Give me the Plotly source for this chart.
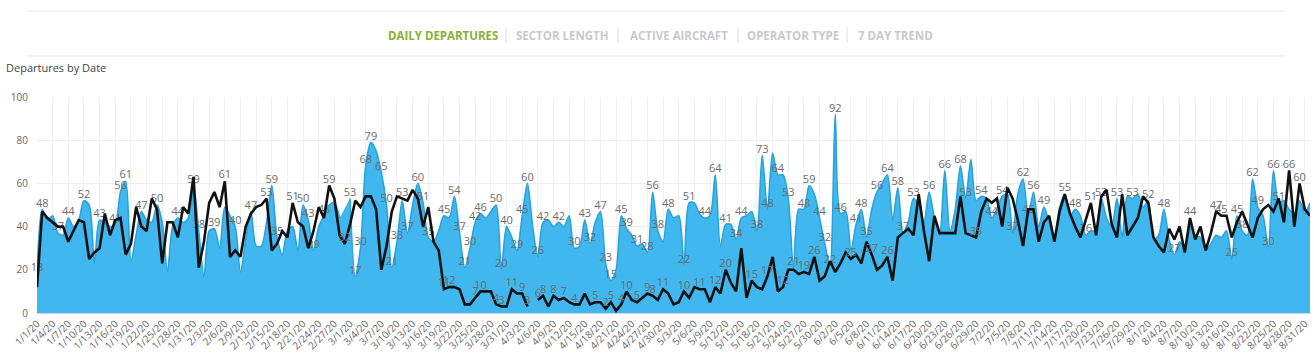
import pandas as pd
import plotly.graph_objects as go

# ---------------- data ----------------
start_date = "2020-01-01"
end_date = "2020-09-01"
dates = pd.date_range(start_date, end_date, freq="D")

daily_departures = [
    18, 48, 43, 45, 37, 36, 44, 40, 43, 52, 50, 23, 43, 42, 40, 41, 56, 61, 24, 36,
    47, 43, 42, 50, 42, 19, 40, 44, 42, 44, 59, 38, 17, 38, 39, 30, 49, 45, 40, 19,
    34, 47, 31, 31, 42, 59, 35, 27, 38, 40, 29, 50, 43, 29, 40, 45, 50, 51, 44, None,
    53, 17, 30, 68, 79, 75, 65, 50, 21, 33, 52, 37, 50, 60, 51, 35, 33, 38, 45, 44,
    54, 37, 21, 30, 42, 46, 44, 47, 50, 20, 40, 35, 29, 45, 60, 40, 26, 42, 43, 40,
    42, 40, 45, 30, 31, 43, 32, 42, 47, 23, 15, 20, 45, 39, 36, 31, 32, 28, 56, 38,
    33, 48, 44, 45, 22, 51, 51, 46, 44, 45, 64, 31, 41, 41, 34, 44, 45, 47, 38, 73,
    48, 74, 64, 64, 53, 21, 48, 48, 59, 55, 44, 32, 22, 92, 46, 47, 29, 41, 48, 35,
    48, 56, 60, 64, 43, 58, 37, 42, 53, 50, 42, 56, 44, 36, 66, 38, 48, 68, 53, 71,
    52, 54, 53, 44, 48, 54, 55, 37, 55, 62, 45, 56, 40, 49, 42, 35, 49, 55, 45, 48,
    45, 36, 38, 38, 53, 44, 40, 53, 35, 54, 53, 55, 49, 52, 34, 36, 48, 34, 27, 33,
    30, 40, 36, 35, 29, 32, 36, 35, 38, 25, 45, 38, 36, 62, 49, 45, 30, 66, 51, 52,
    48, 46, 52, 46, 51,
]

trend_7day = [
    12, 47, 44, 42, 40, 40, 33, 38, 43, 42, 25, 28, 30, 46, 36, 43, 44, 27, 32, 49,
    40, 38, 53, 48, 23, 42, 42, 35, 49, 46, 63, 21, 33, 51, 56, 49, 61, 26, 29, 26,
    40, 46, 49, 50, 53, 29, 32, 38, 35, 51, 42, 40, 30, 38, 49, 44, 59, 53, 36, 32,
    41, 52, 49, 54, 54, 48, 20, 31, 47, 54, 53, 52, 57, 53, 40, 49, 33, 29, 11, 12,
    12, 11, 4, 4, 7, 10, 10, 10, 4, 3, 3, 11, 9, 9, 3, None, 6, 8, 3, 8,
    6, 7, 5, 4, 4, 9, 4, 5, 5, 2, 5, 1, 4, 10, 6, 5, 7, 9, 8, 6,
    11, 9, 4, 5, 10, 7, 12, 11, 11, 5, 12, 9, 20, 14, 10, 30, 7, 15, 12, 11,
    17, 26, 10, 12, 20, 20, 18, 19, 18, 26, 15, 17, 24, 19, 23, 28, 25, 27, 23, 33,
    27, 20, 22, 26, 15, 35, 37, 39, 36, 55, 38, 24, 45, 37, 37, 37, 37, 54, 37, 36,
    35, 47, 53, 51, 53, 40, 58, 53, 43, 31, 48, 48, 33, 42, 45, 33, 47, 55, 46, 40,
    35, 43, 51, 36, 54, 57, 41, 35, 55, 36, 40, 44, 54, 51, 35, 31, 28, 39, 34, 40,
    28, 44, 34, 40, 29, 37, 47, 45, 45, 35, 42, 47, 41, 35, 44, 48, 50, 47, 53, 42,
    66, 40, 60, 48, 45,
]

# which points carry a visible value label (day index from 1/1/20)
departures_labeled = [
    0, 1, 4, 6, 9, 12, 15, 16, 17, 20, 23, 27, 30, 31, 34, 38, 41, 45, 46, 51,
    52, 53, 55, 60, 61, 62, 63, 64, 66, 67, 68, 69, 71, 73, 74, 75, 78, 80, 81, 82,
    83, 84, 85, 88, 89, 90, 92, 93, 94, 96, 97, 100, 103, 105, 106, 108, 109, 110,
    112, 113, 115, 117, 118, 119, 121, 124, 125, 128, 130, 132, 134, 135, 138, 139,
    140, 142, 144, 145, 147, 148, 150, 151, 152, 153, 154, 157, 158, 159, 161, 163,
    165, 166, 168, 171, 174, 177, 178, 181, 183, 185, 187, 189, 190, 191, 193, 197,
    199, 201, 204, 207, 210, 213, 216, 218, 229, 230, 231, 233, 234, 236, 237, 238,
]
trend_labeled = [
    36, 44, 49, 56, 59, 70, 78, 79, 84, 85, 88, 89, 91, 93, 94, 96, 97, 99, 101,
    103, 107, 109, 110, 112, 113, 115, 117, 118, 120, 124, 127, 130, 132, 137, 140,
    143, 147, 149, 156, 160, 163, 180, 202, 221, 226, 227, 240, 242,
]

tab_labels = ["DAILY DEPARTURES", "SECTOR LENGTH", "ACTIVE AIRCRAFT", "OPERATOR TYPE", "7 DAY TREND"]
chart_title = "Departures by Date"

# ---------------- figure ----------------
W, H = 1314, 358
ML, MR, MT, MB = 37, 4, 97, 45
PW, PH = W - ML - MR, H - MT - MB


def px_x(p):
    return (p - ML) / PW


def px_y(p):
    return (H - MB - p) / PH


def label_list(values, idx):
    s = set(idx)
    return [str(v) if (i in s and v is not None) else "" for i, v in enumerate(values)]


fig = go.Figure()
fig.add_trace(go.Scatter(
    x=dates, y=daily_departures, mode="lines+text",
    text=label_list(daily_departures, departures_labeled),
    textposition="top center", textfont=dict(size=11, color="#6b6b6b", family="Open Sans"),
    line=dict(color="#2aa3dc", width=1.6, shape="spline", smoothing=0.8),
    fill="tozeroy", fillcolor="#40b7ee", connectgaps=False,
    hoverinfo="skip", cliponaxis=False,
))
fig.add_trace(go.Scatter(
    x=dates, y=trend_7day, mode="lines+text",
    text=label_list(trend_7day, trend_labeled),
    textposition="top center", textfont=dict(size=11, color="#6b6b6b", family="Open Sans"),
    line=dict(color="#111111", width=2.6), connectgaps=False,
    hoverinfo="skip", cliponaxis=False,
))

shapes = [
    dict(type="line", xref="paper", yref="paper", x0=px_x(27), x1=px_x(1285), y0=px_y(11), y1=px_y(11),
         line=dict(color="#e6e6e6", width=1)),
    dict(type="line", xref="paper", yref="paper", x0=px_x(27), x1=px_x(1285), y0=px_y(56), y1=px_y(56),
         line=dict(color="#e6e6e6", width=1)),
]
for sx in [506, 618, 738, 847]:
    shapes.append(dict(type="line", xref="paper", yref="paper", x0=px_x(sx), x1=px_x(sx),
                       y0=px_y(27), y1=px_y(43), line=dict(color="#dddddd", width=1)))

annotations = []
tab_centers = [443, 562, 679, 793, 895]
for i, (lab, cx) in enumerate(zip(tab_labels, tab_centers)):
    annotations.append(dict(
        text=f"<b>{lab}</b>", x=px_x(cx), y=px_y(35), xref="paper", yref="paper",
        xanchor="center", yanchor="middle", showarrow=False,
        font=dict(size=11.5, color="#86b238" if i == 0 else "#c9c9c9", family="Open Sans"),
    ))
annotations.append(dict(
    text=chart_title, x=px_x(4), y=px_y(67), xref="paper", yref="paper",
    xanchor="left", yanchor="middle", showarrow=False,
    font=dict(size=11, color="#444444", family="Open Sans"),
))

fig.update_layout(
    width=W, height=H, margin=dict(l=ML, r=MR, t=MT, b=MB),
    paper_bgcolor="white", plot_bgcolor="white", showlegend=False,
    shapes=shapes, annotations=annotations,
    font=dict(family="Open Sans", color="#666666"),
    xaxis=dict(
        type="date", range=[start_date, end_date],
        tick0=start_date, dtick=3 * 86400000, tickformat="%-m/%-d/%y",
        tickangle=-45, tickfont=dict(size=10, color="#666666"),
        showgrid=True, gridcolor="#f0f0f0", gridwidth=1,
        showline=True, linecolor="#ccd6eb", linewidth=1,
        ticks="", zeroline=False, automargin=False, fixedrange=True,
    ),
    yaxis=dict(
        range=[0, 100], dtick=20, tickfont=dict(size=10, color="#666666"),
        showgrid=True, gridcolor="#ececec", gridwidth=1,
        zeroline=False, ticks="", ticklabelstandoff=8, automargin=False, fixedrange=True,
    ),
)

fig.write_html(
    "out.html",
    config={"displayModeBar": False},
    post_script="document.body.style.margin='0';document.body.style.padding='0';",
)
